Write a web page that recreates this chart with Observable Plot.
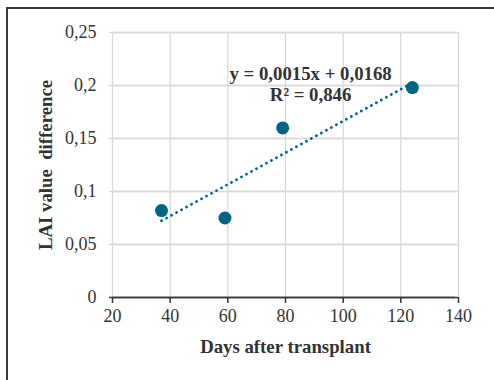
<!DOCTYPE html>
<html>
<head>
<meta charset="utf-8">
<script src="https://cdn.jsdelivr.net/npm/d3@7"></script>
<script src="https://cdn.jsdelivr.net/npm/@observablehq/plot@0.6"></script>
<style>
  html, body { margin: 0; padding: 0; background: #fff; overflow: hidden; }
  #wrap { position: relative; width: 494px; height: 380px; overflow: hidden; }
  #wrap svg { position: absolute; left: 0; top: 0; }
  #frame { position: absolute; left: 6px; top: 7px; width: 600px; height: 600px; z-index: 10;
           border-left: 2px solid #3a3a3a; border-top: 2px solid #3a3a3a; pointer-events: none; }
  svg text { white-space: pre; }
</style>
</head>
<body>
<div id="wrap"><div id="frame"></div></div>
<script>
// Data
const days = [37, 59, 79, 124];
const laiDiff = [0.082, 0.075, 0.160, 0.198];
const xTicks = [20, 40, 60, 80, 100, 120, 140];
const yTicks = [0, 0.05, 0.1, 0.15, 0.2, 0.25];
const equationText = ["y = 0,0015x + 0,0168\nR² = 0,846"];
const equationPos = {x: 88.7, y: 0.2015};
const xTitle = "Days after transplant";
const yTitle = "LAI value  difference";

const data = days.map((d, i) => ({days: d, lai: laiDiff[i]}));
const fmtY = v => String(v).replace(".", ",");
const dotColor = "#006584";
const serif = "'Liberation Serif', 'Times New Roman', serif";

const chart = Plot.plot({
  width: 494,
  height: 380,
  marginLeft: 112,
  marginRight: 36,
  marginTop: 32,
  marginBottom: 83,
  style: {fontFamily: serif, fontSize: "18px", color: "#333", background: "transparent"},
  x: {domain: [20, 140], axis: null},
  y: {domain: [0, 0.25], axis: null},
  marks: [
    Plot.gridX(xTicks, {stroke: "#d9d9d9", strokeOpacity: 1, strokeWidth: 1.3}),
    Plot.gridY(yTicks.filter(d => d > 0), {stroke: "#d9d9d9", strokeOpacity: 1, strokeWidth: 1.3}),
    Plot.tickY(yTicks.filter(d => d > 0), {y: d => d, frameAnchor: "left", dx: -3, stroke: "#d9d9d9", strokeWidth: 1.3}),
    Plot.tickY([0], {y: d => d, frameAnchor: "left", dx: -3, stroke: "#333", strokeWidth: 1.5}),
    Plot.text(yTicks, {y: d => d, text: fmtY, frameAnchor: "left", dx: -16, textAnchor: "end", fontSize: 18, fontFamily: serif, fill: "#333"}),
    Plot.ruleY([0], {stroke: "#333", strokeWidth: 1.5}),
    Plot.ruleX(xTicks, {x: d => d, y1: 0, y2: 0, stroke: "#333", strokeWidth: 1.5, insetBottom: -6}),
    Plot.text(xTicks, {x: d => d, text: d => String(d), frameAnchor: "bottom", dy: 24, fontSize: 18, fontFamily: serif, fill: "#333"}),
    Plot.linearRegressionY(data, {x: "days", y: "lai", ci: 0, stroke: dotColor, strokeWidth: 2.8, strokeDasharray: "0.1 5.6", strokeLinecap: "round"}),
    Plot.dot(data, {x: "days", y: "lai", r: 6.5, fill: dotColor, stroke: "none"}),
    Plot.text(equationText, {x: () => equationPos.x, y: () => equationPos.y, fontWeight: "bold", fontSize: 18.8, fontFamily: serif, lineHeight: 1.12, textAnchor: "middle", lineAnchor: "middle", fill: "#333"}),
    Plot.text([xTitle], {frameAnchor: "bottom", dy: 55, fontWeight: "bold", fontSize: 18.8, fontFamily: serif, fill: "#333"}),
    Plot.text([yTitle], {frameAnchor: "left", dx: -67, rotate: -90, textAnchor: "middle", fontWeight: "bold", fontSize: 18.8, fontFamily: serif, fill: "#333"})
  ]
});
document.getElementById("wrap").prepend(chart);
</script>
</body>
</html>
